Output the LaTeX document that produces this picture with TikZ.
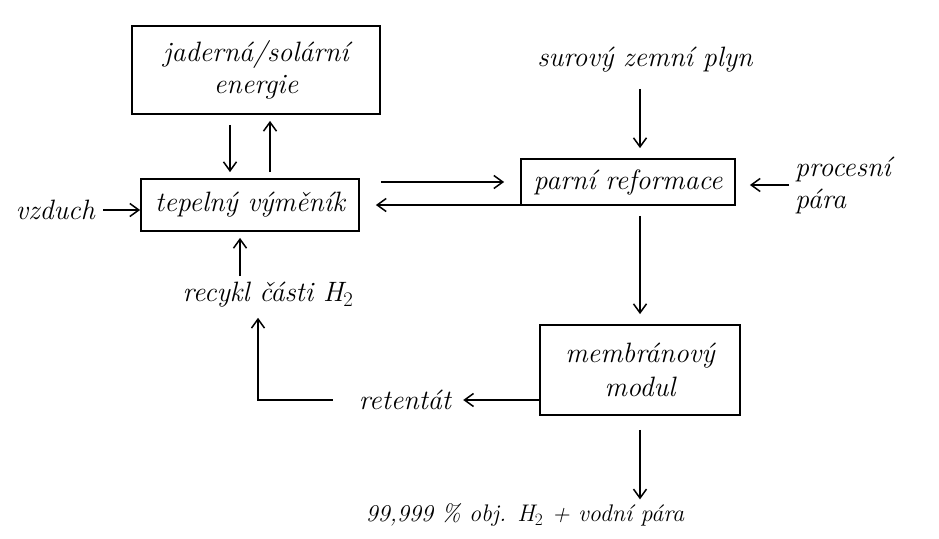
\documentclass[tikz,border=0pt]{standalone}
\usetikzlibrary{arrows.meta}
\begin{document}
\begin{tikzpicture}[x=1pt,y=-1pt,
  lbl/.style={font=\fontsize{28}{32}\selectfont\itshape, inner sep=0pt},
  small/.style={font=\fontsize{24}{28}\selectfont\itshape, inner sep=0pt},
  box/.style={draw, line width=1.8pt, lbl, align=center},
  arr/.style={-{Straight Barb[length=9pt,width=13pt,line width=1.5pt]}, line width=1.5pt}]
\useasboundingbox (0,0) rectangle (939,538);
\node[box, minimum width=248pt, minimum height=88pt] (en) at (256,70) {jaderná/solární\\[0pt]energie};
\node[box, minimum width=218pt, minimum height=52pt] (hx) at (250,205) {tepelný výměník};
\node[box, minimum width=214pt, minimum height=46pt] (ref) at (628,182) {parní reformace};
\node[box, minimum width=200pt, minimum height=90pt] (mem) at (640,370) {membránový\\[2pt]modul};
\node[lbl] (gas) at (645,60) {surový zemní plyn};
\node[lbl, align=left, anchor=west] (steam) at (795,185) {procesní\\pára};
\node[lbl, anchor=east] (air) at (95,210) {vzduch};
\node[lbl] (rec) at (268,295) {recykl části H$_2$};
\node[lbl] (ret) at (405,400) {retentát};
\node[small] (prod) at (525,515) {99,999 \% obj. H$_2$ + vodní pára};
% energy <-> heat exchanger
\draw[arr, shorten <=10pt, shorten >=6pt] ([xshift=-26pt]en.south) -- ([xshift=-26pt]en.south |- hx.north);
\draw[arr, shorten <=6pt, shorten >=6pt] ([xshift=14pt]en.south |- hx.north) -- ([xshift=14pt]en.south);
% heat exchanger <-> reformer
\draw[arr, shorten <=21pt, shorten >=16pt] (hx.east |- ref.center) -- (ref.west);
\draw[arr, shorten >=16pt] (ref.west |- hx.east) -- (hx.east);
% inputs
\draw[arr, shorten <=8pt] (air.east) -- (air.east -| hx.west);
\draw[arr, shorten <=16pt, shorten >=10pt] ([xshift=12pt]ref.north |- gas.south) -- ([xshift=12pt]ref.north);
\draw[arr, shorten <=6pt, shorten >=14pt] (steam.west) -- (steam.west -| ref.east);
% reformer -> membrane
\draw[arr, shorten <=10pt, shorten >=10pt] ([xshift=12pt]ref.south) -- ([xshift=12pt]ref.south |- mem.north);
% membrane outputs
\draw[arr, shorten <=14pt, shorten >=4pt] (mem.south) -- (mem.south |- prod.north);
\draw[arr, shorten >=12pt] (mem.west |- ret.east) -- (ret.east);
% recycle
\draw[arr, shorten <=26pt, shorten >=10pt] (ret.west) -| ([xshift=-10pt]rec.south);
\draw[arr, shorten <=6pt, shorten >=6pt] ([xshift=-10pt]hx.south |- rec.north) -- ([xshift=-10pt]hx.south);
\end{tikzpicture}
\end{document}
